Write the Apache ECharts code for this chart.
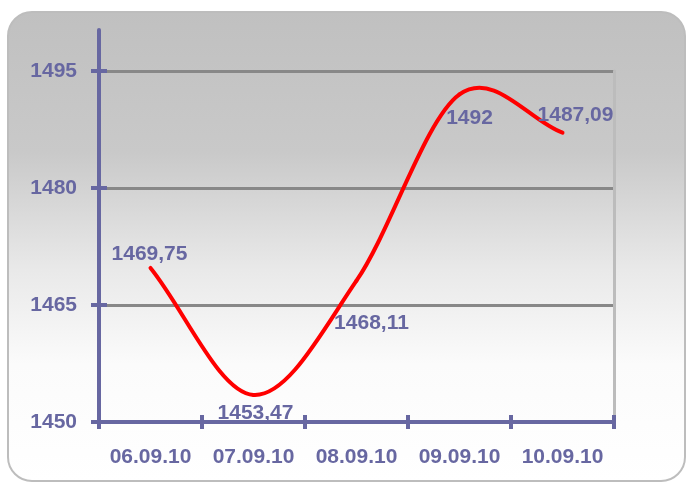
<!DOCTYPE html>
<html>
<head>
<meta charset="utf-8">
<script src="https://cdn.jsdelivr.net/npm/echarts@6/dist/echarts.min.js"></script>
<style>
html,body{margin:0;padding:0;background:#fff;}
#chart{width:687px;height:485px;}
</style>
</head>
<body>
<div id="chart"></div>
<script>
var categories = ['06.09.10', '07.09.10', '08.09.10', '09.09.10', '10.09.10'];
var values = [1469.75, 1453.47, 1468.11, 1492, 1487.09];
var yMin = 1450;
var yMax = 1495;
var yStep = 15;

var TEXT = '#6767a1';
var AXIS = '#6767a1';
var FONT = 'Liberation Sans, Arial, sans-serif';
var FS = 21;

// label placement (offset of label centre from the point), style only
var labelOffsets = [[-1, -14], [2, 18], [15, 42], [10, 24], [13, -17]];

var labelData = values.map(function (v, i) {
  return { value: v, label: { position: 'inside', offset: labelOffsets[i] } };
});
var curveData = values.map(function (v, i) { return [i, v]; });

// Catmull-Rom style smoothing drawn through the axis scales
function renderCurve(params, api) {
  var i = params.dataIndex;
  var n = values.length;
  if (i >= n - 1) return null;
  var P = values.map(function (v, k) { return api.coord([k, v]); });
  var p0 = P[i], p1 = P[i + 1];
  var prev = i > 0 ? P[i - 1] : p0;
  var next = i + 2 < n ? P[i + 2] : p1;
  var t0 = i > 0 ? [(p1[0] - prev[0]) / 2, (p1[1] - prev[1]) / 2] : [p1[0] - p0[0], p1[1] - p0[1]];
  var t1 = i + 2 < n ? [(next[0] - p0[0]) / 2, (next[1] - p0[1]) / 2] : [p1[0] - p0[0], p1[1] - p0[1]];
  return {
    type: 'bezierCurve',
    shape: {
      x1: p0[0], y1: p0[1],
      x2: p1[0], y2: p1[1],
      cpx1: p0[0] + t0[0] / 3, cpy1: p0[1] + t0[1] / 3,
      cpx2: p1[0] - t1[0] / 3, cpy2: p1[1] - t1[1] / 3
    },
    style: { fill: null, stroke: '#ff0000', lineWidth: 4, lineCap: 'round' }
  };
}

var chart = echarts.init(document.getElementById('chart'), null, { renderer: 'canvas' });

var labelStyle = { color: TEXT, fontSize: FS, fontWeight: 'bold', fontFamily: FONT };

var option = {
  animation: false,
  graphic: [
    {
      type: 'rect',
      z: -100,
      silent: true,
      shape: { x: 8, y: 12, width: 677, height: 469, r: 24 },
      style: {
        fill: new echarts.graphic.LinearGradient(0, 0, 0, 1, [
          { offset: 0, color: '#c0c0c0' },
          { offset: 0.3, color: '#c9c9c9' },
          { offset: 0.55, color: '#e9e9e9' },
          { offset: 0.75, color: '#fbfbfb' },
          { offset: 1, color: '#ffffff' }
        ]),
        stroke: '#bdbdbd',
        lineWidth: 2
      }
    }
  ],
  grid: [
    { left: 99, right: 73, top: 71, bottom: 63 },
    { left: 99, right: 73, top: 71, bottom: 63 },
    { left: 99, right: 73, top: 30, bottom: 63 }
  ],
  xAxis: [
    {
      type: 'category', gridIndex: 0, position: 'bottom', data: categories, boundaryGap: true,
      axisLine: { show: true, lineStyle: { color: AXIS, width: 4 } },
      axisTick: { show: true, inside: false, length: 7, lineStyle: { color: AXIS, width: 4 } },
      axisLabel: Object.assign({ margin: 25, interval: 0, hideOverlap: false }, labelStyle),
      splitLine: { show: false }
    },
    {
      type: 'category', gridIndex: 1, position: 'bottom', data: categories, boundaryGap: true,
      axisLine: { show: false },
      axisTick: { show: true, inside: true, length: 7, lineStyle: { color: AXIS, width: 4 } },
      axisLabel: { show: false },
      splitLine: { show: false }
    },
    { type: 'value', gridIndex: 2, show: false, min: 0, max: 1 }
  ],
  yAxis: [
    {
      type: 'value', gridIndex: 0, position: 'left', min: yMin, max: yMax, interval: yStep,
      axisLine: { show: true, lineStyle: { color: AXIS, width: 4 } },
      axisTick: { show: true, inside: false, length: 8, lineStyle: { color: AXIS, width: 4 } },
      axisLabel: Object.assign({ margin: 22, formatter: function (v) { return String(v); } }, labelStyle),
      splitLine: { show: true, lineStyle: { color: '#888888', width: 3 } }
    },
    {
      type: 'value', gridIndex: 1, position: 'left', min: yMin, max: yMax, interval: yStep,
      axisLine: { show: false },
      axisTick: { show: true, inside: true, length: 8, lineStyle: { color: AXIS, width: 4 } },
      axisLabel: { show: false },
      splitLine: { show: false }
    },
    {
      type: 'value', gridIndex: 1, position: 'right', min: yMin, max: yMax, interval: yStep,
      axisLine: { show: true, lineStyle: { color: '#bcbcbc', width: 3 } },
      axisTick: { show: false }, axisLabel: { show: false }, splitLine: { show: false }
    },
    {
      type: 'value', gridIndex: 2, position: 'left', min: 0, max: 1,
      axisLine: { show: true, lineStyle: { color: AXIS, width: 4 } },
      axisTick: { show: false }, axisLabel: { show: false }, splitLine: { show: false }
    }
  ],
  series: [
    {
      type: 'custom',
      xAxisIndex: 0,
      yAxisIndex: 0,
      data: curveData,
      encode: { x: 0, y: 1 },
      renderItem: renderCurve,
      z: 4
    },
    {
      type: 'line',
      xAxisIndex: 0,
      yAxisIndex: 0,
      data: labelData,
      symbol: 'circle',
      symbolSize: 1,
      showSymbol: true,
      itemStyle: { color: 'rgba(0,0,0,0)' },
      lineStyle: { opacity: 0, width: 0 },
      label: Object.assign({
        show: true,
        formatter: function (p) { return String(p.value).replace('.', ','); }
      }, labelStyle),
      z: 5
    }
  ]
};

chart.setOption(option);
</script>
</body>
</html>
